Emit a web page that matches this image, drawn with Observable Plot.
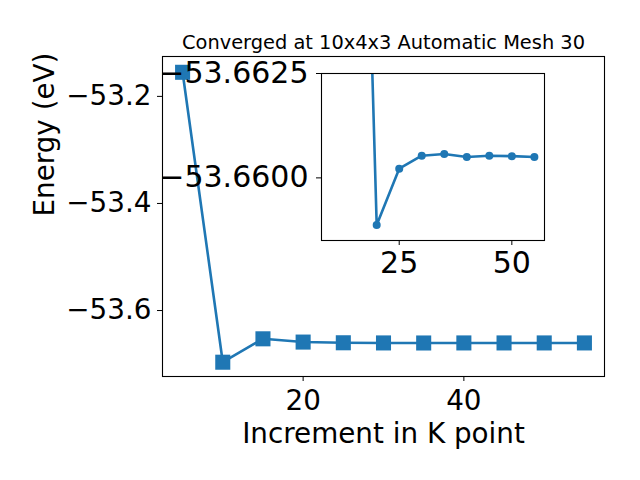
<!DOCTYPE html>
<html>
<head>
<meta charset="utf-8">
<script src="https://cdn.jsdelivr.net/npm/d3@7"></script>
<script src="https://cdn.jsdelivr.net/npm/@observablehq/plot@0.6"></script>
<style>
  html, body { margin: 0; padding: 0; background: white; }
  #wrap { position: relative; width: 640px; height: 480px; }
  #wrap > svg { position: absolute; left: 0; top: 0; }
</style>
</head>
<body>
<div id="wrap"></div>
<script>
// ---- data ----
const kPoints = [5, 10, 15, 20, 25, 30, 35, 40, 45, 50, 55];
const energies = [-53.155, -53.6965, -53.6528, -53.6589, -53.6602, -53.6605, -53.6606, -53.6605, -53.6605, -53.6605, -53.6605];

const insetK = [10, 20, 25, 30, 35, 40, 45, 50, 55];
const insetE = [-53.6965, -53.65887, -53.66022, -53.66053, -53.66057, -53.6605, -53.66053, -53.66052, -53.6605];

const mainXTicks = [20, 40];
const mainYTicks = [-53.2, -53.4, -53.6];
const insetXTicks = [25, 50];
const insetYTicks = [-53.6625, -53.66];

const titleText = "Converged at 10x4x3 Automatic Mesh 30";
const xLabel = "Increment in K point";
const yLabel = "Energy (eV)";

const blue = "#1f77b4";
const font = "DejaVu Sans";
const mainData = kPoints.map((k, i) => ({k, e: energies[i]}));
const insetData = insetK.map((k, i) => ({k, e: insetE[i]}));

const main = Plot.plot({
  width: 640,
  height: 480,
  marginLeft: 162,
  marginRight: 36,
  marginTop: 56,
  marginBottom: 104,
  style: {fontFamily: font, fontSize: "27.8px", background: "white", color: "black"},
  x: {domain: [2.5, 57.5]},
  y: {domain: [-53.7232, -53.1255]},
  marks: [
    Plot.axisX({ticks: mainXTicks, tickSize: 5, tickPadding: 9, label: null, tickFormat: d3.format("d")}),
    Plot.axisY({ticks: mainYTicks, tickSize: 5, tickPadding: 6, label: null, tickFormat: d3.format(".1f")}),
    Plot.line(mainData, {x: "k", y: "e", stroke: blue, strokeWidth: 2.6}),
    Plot.dot(mainData, {x: "k", y: "e", symbol: "square", r: 8.5, fill: blue}),
    Plot.frame({stroke: "black", strokeWidth: 1.1}),
    Plot.text([titleText], {text: d => d, frameAnchor: "top", lineAnchor: "bottom", dy: -8, fontSize: 19.4, fill: "black"}),
    Plot.text([xLabel], {text: d => d, frameAnchor: "bottom", lineAnchor: "bottom", dy: 66, fontSize: 27.8, fill: "black"}),
    Plot.text([yLabel], {text: d => d, frameAnchor: "left", lineAnchor: "bottom", rotate: -90, dx: -108.5, fontSize: 27.8, fill: "black"})
  ]
});

const inset = Plot.plot({
  width: 640,
  height: 480,
  marginLeft: 321,
  marginRight: 96,
  marginTop: 73,
  marginBottom: 240,
  style: {fontFamily: font, fontSize: "30px", background: "transparent", color: "black"},
  x: {domain: [7.75, 57.25]},
  y: {domain: [-53.6625, -53.6585], reverse: true},
  marks: [
    Plot.frame({fill: "white"}),
    Plot.axisX({ticks: insetXTicks, tickSize: 5, tickPadding: 6, label: null, tickFormat: d3.format("d")}),
    Plot.axisY({ticks: insetYTicks, tickSize: 5, tickPadding: 8, label: null, tickFormat: d3.format(".4f")}),
    Plot.line(insetData, {x: "k", y: "e", stroke: blue, strokeWidth: 2.6, clip: true}),
    Plot.dot(insetData, {x: "k", y: "e", r: 4, fill: blue, clip: true}),
    Plot.frame({stroke: "black", strokeWidth: 1.1})
  ]
});

const wrap = document.getElementById("wrap");
wrap.appendChild(main);
wrap.appendChild(inset);
</script>
</body>
</html>
